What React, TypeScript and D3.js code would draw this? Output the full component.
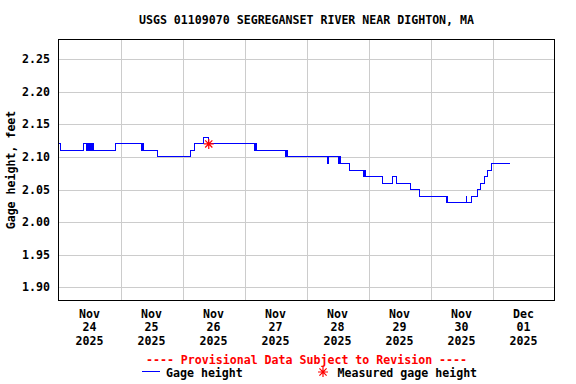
import * as d3 from 'd3';

const title = 'USGS 01109070 SEGREGANSET RIVER NEAR DIGHTON, MA';
const yLabel = 'Gage height, feet';
const provisional = '---- Provisional Data Subject to Revision ----';

// step changes in the 15-minute record (time, gage height in feet)
const times = [
  '2025-11-24T00:00', '2025-11-24T00:45', '2025-11-24T09:45', '2025-11-24T11:00',
  '2025-11-24T11:15', '2025-11-24T11:30', '2025-11-24T11:45', '2025-11-24T12:00',
  '2025-11-24T12:15', '2025-11-24T12:30', '2025-11-24T12:45', '2025-11-24T13:00',
  '2025-11-24T13:15', '2025-11-24T13:30', '2025-11-24T22:00', '2025-11-25T08:15',
  '2025-11-25T08:30', '2025-11-25T08:45', '2025-11-25T14:30', '2025-11-26T03:00',
  '2025-11-26T04:30', '2025-11-26T08:00', '2025-11-26T10:15', '2025-11-27T04:00',
  '2025-11-27T04:15', '2025-11-27T04:30', '2025-11-27T16:00', '2025-11-27T16:15',
  '2025-11-27T16:30', '2025-11-28T08:15', '2025-11-28T08:30', '2025-11-28T12:30',
  '2025-11-28T12:45', '2025-11-28T13:00', '2025-11-28T16:45', '2025-11-28T22:15',
  '2025-11-28T22:30', '2025-11-28T22:45', '2025-11-29T05:30', '2025-11-29T09:15',
  '2025-11-29T11:00', '2025-11-29T16:15', '2025-11-29T19:45', '2025-11-30T06:00',
  '2025-11-30T06:15', '2025-11-30T06:30', '2025-11-30T13:45', '2025-11-30T14:00',
  '2025-11-30T16:00', '2025-11-30T18:15', '2025-11-30T19:30', '2025-11-30T20:45',
  '2025-11-30T22:00', '2025-11-30T23:30', '2025-12-01T06:45',
];
const gageHeight = [
  2.12, 2.11, 2.12, 2.11,
  2.12, 2.11, 2.12, 2.11,
  2.12, 2.11, 2.12, 2.11,
  2.12, 2.11, 2.12, 2.11,
  2.12, 2.11, 2.10, 2.11,
  2.12, 2.13, 2.12, 2.11,
  2.12, 2.11, 2.10, 2.11,
  2.10, 2.09, 2.10, 2.09,
  2.10, 2.09, 2.08, 2.07,
  2.08, 2.07, 2.06, 2.07,
  2.06, 2.05, 2.04, 2.03,
  2.04, 2.03, 2.04, 2.03,
  2.04, 2.05, 2.06, 2.07,
  2.08, 2.09, 2.09,
];

const measuredTimes = ['2025-11-26T10:10'];
const measuredHeight = [2.12];

const yTicks = [1.90, 1.95, 2.00, 2.05, 2.10, 2.15, 2.20, 2.25];
const dayTicks = ['2025-11-24', '2025-11-25', '2025-11-26', '2025-11-27', '2025-11-28', '2025-11-29', '2025-11-30', '2025-12-01'];

const W = 576;
const H = 384;
const left = 58.5, right = 554.5, top = 39.5, bottom = 300.5;
const font = '"DejaVu Sans Mono", monospace';
const fs = 11.6;

const parseT = d3.timeParse('%Y-%m-%dT%H:%M');
const parseD = d3.timeParse('%Y-%m-%d');

function star(cx: number, cy: number, r: number) {
  const d = r * 0.72;
  return `M${cx - r},${cy}H${cx + r}M${cx},${cy - r}V${cy + r}` +
    `M${cx - d},${cy - d}L${cx + d},${cy + d}M${cx - d},${cy + d}L${cx + d},${cy - d}`;
}

export default function App() {
  const series = times.map((t, i) => ({ t: parseT(t) as Date, v: gageHeight[i] }));
  const measured = measuredTimes.map((t, i) => ({ t: parseT(t) as Date, v: measuredHeight[i] }));
  const days = dayTicks.map(d => parseD(d) as Date);

  const x = d3.scaleTime()
    .domain([days[0], d3.timeDay.offset(days[days.length - 1], 1)])
    .range([left, right]);
  const y = d3.scaleLinear().domain([1.88, 2.28]).range([bottom, top]);

  const line = d3.line<{ t: Date; v: number }>()
    .x(d => x(d.t))
    .y(d => y(d.v))
    .curve(d3.curveStepAfter);

  const fmtMon = d3.timeFormat('%b');
  const fmtDay = d3.timeFormat('%d');
  const fmtYear = d3.timeFormat('%Y');
  const cx = (left + right) / 2;

  return (
    <svg width={W} height={H} style={{ position: 'absolute', left: 0, top: 0, background: '#fff' }}
      fontFamily={font} fontWeight="bold" fontSize={fs}>
      <rect x={0} y={0} width={W} height={H} fill="#fff" />
      <text x={cx} y={24} textAnchor="middle">{title}</text>

      {/* grid */}
      <g stroke="#cccccc" strokeWidth={1} shapeRendering="crispEdges">
        {yTicks.map(t => (
          <line key={t} x1={left} x2={right} y1={Math.round(y(t)) + 0.5} y2={Math.round(y(t)) + 0.5} />
        ))}
        {days.slice(1).map(d => (
          <line key={+d} x1={Math.round(x(d)) + 0.5} x2={Math.round(x(d)) + 0.5} y1={top} y2={bottom} />
        ))}
      </g>

      {/* y labels */}
      {yTicks.map(t => (
        <text key={t} x={50} y={Math.round(y(t)) + 4} textAnchor="end">{t.toFixed(2)}</text>
      ))}
      <text transform={`translate(15,${(top + bottom) / 2}) rotate(-90)`} textAnchor="middle">{yLabel}</text>

      {/* x labels */}
      {days.map(d => {
        const px = x(d3.timeHour.offset(d, 12));
        return (
          <text key={+d} x={px} textAnchor="middle">
            <tspan x={px} y={318}>{fmtMon(d)}</tspan>
            <tspan x={px} y={331.3}>{fmtDay(d)}</tspan>
            <tspan x={px} y={344.6}>{fmtYear(d)}</tspan>
          </text>
        );
      })}

      {/* data */}
      <path d={line(series) || ''} fill="none" stroke="#0000ff" strokeWidth={1} shapeRendering="crispEdges" />
      {measured.map((m, i) => (
        <path key={i} d={star(x(m.t), y(m.v), 5)} stroke="#ff0000" strokeWidth={1.2} fill="none" />
      ))}

      {/* frame */}
      <rect x={left} y={top} width={right - left} height={bottom - top} fill="none" stroke="#000" strokeWidth={1} shapeRendering="crispEdges" />

      {/* footer */}
      <text x={cx} y={363.5} textAnchor="middle" fill="#ff0000">{provisional}</text>
      <line x1={142} x2={160} y1={371.5} y2={371.5} stroke="#0000ff" strokeWidth={1} shapeRendering="crispEdges" />
      <text x={166} y={377}>Gage height</text>
      <path d={star(323, 372, 5)} stroke="#ff0000" strokeWidth={1.2} fill="none" />
      <text x={337.5} y={377}>Measured gage height</text>
    </svg>
  );
}
